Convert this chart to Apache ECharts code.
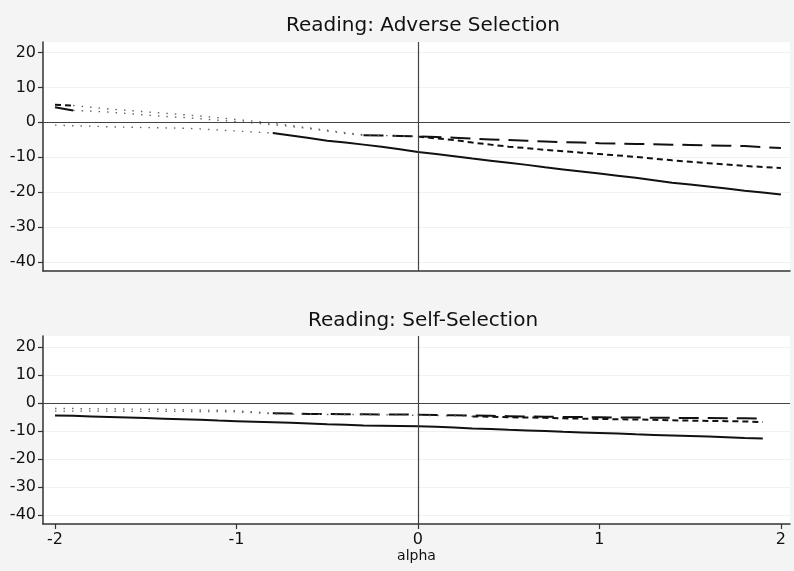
<!DOCTYPE html>
<html>
<head>
<meta charset="utf-8">
<script src="https://cdn.jsdelivr.net/npm/echarts@6/dist/echarts.min.js"></script>
<style>
  html, body { margin: 0; padding: 0; background: #f4f4f4; }
  #chart { width: 794px; height: 571px; }
</style>
</head>
<body>
<div id="chart"></div>
<script>
// alpha grid (x values)
const alpha = [-2.0, -1.9, -1.8, -1.7, -1.6, -1.5, -1.4, -1.3, -1.2, -1.1, -1.0,
  -0.9, -0.8, -0.7, -0.6, -0.5, -0.4, -0.3, -0.2, -0.1, 0.0,
  0.1, 0.2, 0.3, 0.4, 0.5, 0.6, 0.7, 0.8, 0.9, 1.0,
  1.1, 1.2, 1.3, 1.4, 1.5, 1.6, 1.7, 1.8, 1.9, 2.0]
const xTicks = [-2, -1, 0, 1, 2]
const yTicks = [-40, -30, -20, -10, 0, 10, 20]

// Reading: Adverse Selection
const adverseSolid = [-0.8, -1.0, -1.1, -1.3, -1.4, -1.5, -1.6, -1.7, -1.9, -2.2, -2.5,
  -2.8, -3.1, -3.8, -4.5, -5.3, -5.8, -6.4, -7.0, -7.7, -8.5,
  -9.1, -9.7, -10.4, -11.0, -11.6, -12.2, -12.9, -13.5, -14.1, -14.7,
  -15.3, -15.9, -16.6, -17.3, -17.8, -18.4, -19.0, -19.6, -20.1, -20.7]
const adverseLongDash = [4.3, 3.4, 3.2, 2.9, 2.5, 2.1, 1.7, 1.4, 1.0, 0.6, 0.2,
  -0.2, -0.7, -1.2, -1.8, -2.5, -3.2, -3.7, -3.8, -3.9, -4.0,
  -4.2, -4.4, -4.7, -4.9, -5.1, -5.3, -5.5, -5.7, -5.8, -6.0,
  -6.1, -6.2, -6.3, -6.4, -6.5, -6.6, -6.7, -6.8, -7.1, -7.4]
const adverseShortDash = [5.0, 4.8, 4.3, 3.8, 3.4, 3.0, 2.6, 2.2, 1.8, 1.3, 0.8,
  0.3, -0.3, -0.9, -1.6, -2.3, -3.0, -3.6, -3.8, -3.9, -4.1,
  -4.6, -5.1, -5.8, -6.4, -7.0, -7.4, -7.9, -8.3, -8.7, -9.1,
  -9.5, -9.9, -10.4, -10.9, -11.3, -11.7, -12.1, -12.5, -12.8, -13.1]
// alpha ranges drawn as full lines (dotted elsewhere)
const adverseSolidSig = [[-0.8, 2.0]]
const adverseLongDashSig = [[-2.0, -1.9], [-0.3, 2.0]]
const adverseShortDashSig = [[-2.0, -1.9], [0.0, 2.0]]

// Reading: Self-Selection
const selfSolid = [-4.5, -4.6, -4.8, -5.0, -5.2, -5.4, -5.6, -5.8, -6.0, -6.3, -6.5,
  -6.7, -6.9, -7.1, -7.3, -7.6, -7.8, -8.0, -8.1, -8.2, -8.3,
  -8.5, -8.8, -9.1, -9.3, -9.6, -9.8, -10.0, -10.3, -10.5, -10.7,
  -10.9, -11.2, -11.4, -11.6, -11.8, -12.0, -12.2, -12.5, -12.7, null]
const selfLongDash = [-2.0, -2.0, -2.1, -2.1, -2.2, -2.2, -2.3, -2.4, -2.5, -2.6, -2.8,
  -3.2, -3.7, -3.8, -3.9, -3.9, -4.0, -4.0, -4.1, -4.1, -4.2,
  -4.3, -4.4, -4.5, -4.6, -4.7, -4.8, -4.9, -5.0, -5.0, -5.1,
  -5.2, -5.2, -5.3, -5.3, -5.4, -5.4, -5.5, -5.5, -5.6, null]
const selfShortDash = [-2.9, -2.9, -2.9, -2.9, -3.0, -3.0, -3.0, -3.0, -3.1, -3.1, -3.2,
  -3.5, -3.9, -4.0, -4.0, -4.1, -4.1, -4.2, -4.2, -4.3, -4.4,
  -4.5, -4.6, -4.8, -4.9, -5.1, -5.2, -5.3, -5.5, -5.6, -5.7,
  -5.8, -5.9, -6.0, -6.2, -6.3, -6.4, -6.5, -6.6, -6.8, null]
const selfSolidSig = [[-2.0, 1.9]]
const selfLongDashSig = [[-0.8, 1.9]]
const selfShortDashSig = [[0.3, 1.9]]

function inRanges(a, ranges) {
  return ranges.some(r => a >= r[0] - 1e-9 && a <= r[1] + 1e-9)
}

// split one curve into the full-style part and the thin dotted part
function split(values, ranges) {
  const sig = [], dot = []
  const n = alpha.length
  for (let i = 0; i < n; i++) {
    const s = inRanges(alpha[i], ranges)
    const prevOff = i > 0 && !inRanges(alpha[i - 1], ranges)
    const nextOff = i < n - 1 && !inRanges(alpha[i + 1], ranges)
    sig.push([alpha[i], s ? values[i] : null])
    dot.push([alpha[i], (!s || prevOff || nextOff) ? values[i] : null])
  }
  return { sig, dot }
}

const solidStyle = { color: '#111', width: 2, type: 'solid' }
const longStyle = { color: '#111', width: 2, type: [20, 9] }
const shortStyle = { color: '#111', width: 2, type: [6, 4] }
const dotStyle = { color: '#666', width: 1.4, type: [1.5, 7] }

function curves(values, ranges, style, idx) {
  const p = split(values, ranges)
  const base = { type: 'line', xAxisIndex: idx, yAxisIndex: idx, symbol: 'none', silent: true, animation: false }
  return [
    Object.assign({}, base, { data: p.dot, lineStyle: dotStyle }),
    Object.assign({}, base, { data: p.sig, lineStyle: style })
  ]
}

// zero lines
function zeroLines(idx) {
  return {
    type: 'line', xAxisIndex: idx, yAxisIndex: idx, data: [], silent: true, animation: false,
    markLine: {
      symbol: 'none', silent: true, animation: false,
      label: { show: false },
      lineStyle: { color: '#444', width: 1.2, type: 'solid' },
      data: [{ yAxis: 0 }, { xAxis: 0 }]
    }
  }
}

const font = 'DejaVu Sans'

function yAxis(idx, min, max) {
  return {
    type: 'value', gridIndex: idx, min: min, max: max,
    axisLine: { show: true, onZero: false, lineStyle: { color: '#333', width: 1.5 } },
    axisTick: { show: true, length: 5, customValues: yTicks, lineStyle: { color: '#333', width: 1.2 } },
    axisLabel: { customValues: yTicks, color: '#111', fontSize: 16, fontFamily: font, margin: 7 },
    splitLine: { show: true, lineStyle: { color: '#f1f1f1', width: 1 } }
  }
}

const chart = echarts.init(document.getElementById('chart'))
chart.setOption({
  backgroundColor: '#f4f4f4',
  animation: false,
  title: [
    { text: 'Reading: Adverse Selection', left: 418, top: 11, textAlign: 'center',
      textStyle: { fontFamily: font, fontSize: 20, fontWeight: 'normal', color: '#111' } },
    { text: 'Reading: Self-Selection', left: 418, top: 306, textAlign: 'center',
      textStyle: { fontFamily: font, fontSize: 20, fontWeight: 'normal', color: '#111' } }
  ],
  grid: [
    { left: 43, right: 4, top: 42, height: 229, show: true, backgroundColor: '#fff', borderWidth: 0 },
    { left: 43, right: 4, top: 336, height: 188, show: true, backgroundColor: '#fff', borderWidth: 0 }
  ],
  xAxis: [
    { type: 'value', gridIndex: 0, min: -2.066, max: 2.05,
      axisLine: { show: true, onZero: false, lineStyle: { color: '#333', width: 1.5 } },
      axisTick: { show: false }, axisLabel: { show: false }, splitLine: { show: false } },
    { type: 'value', gridIndex: 1, min: -2.066, max: 2.05,
      name: 'alpha', nameLocation: 'middle', nameGap: 25,
      nameTextStyle: { fontFamily: font, fontSize: 14, color: '#111' },
      axisLine: { show: true, onZero: false, lineStyle: { color: '#333', width: 1.5 } },
      axisTick: { show: true, length: 5, customValues: xTicks, lineStyle: { color: '#333', width: 1.2 } },
      axisLabel: { customValues: xTicks, color: '#111', fontSize: 16, fontFamily: font, margin: 8 },
      splitLine: { show: false } }
  ],
  yAxis: [yAxis(0, -42.6, 23), yAxis(1, -43.2, 23.9)],
  series: [
    zeroLines(0),
    ...curves(adverseSolid, adverseSolidSig, solidStyle, 0),
    ...curves(adverseLongDash, adverseLongDashSig, longStyle, 0),
    ...curves(adverseShortDash, adverseShortDashSig, shortStyle, 0),
    zeroLines(1),
    ...curves(selfSolid, selfSolidSig, solidStyle, 1),
    ...curves(selfLongDash, selfLongDashSig, longStyle, 1),
    ...curves(selfShortDash, selfShortDashSig, shortStyle, 1)
  ]
})
</script>
</body>
</html>
